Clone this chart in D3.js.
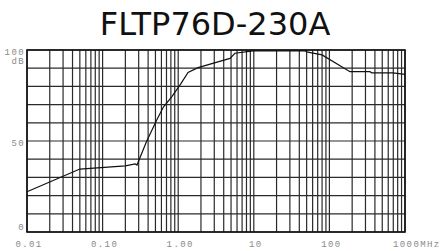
<!DOCTYPE html>
<html lang="en">
<head>
  <meta charset="UTF-8">
  <title>FLTP76D-230A</title>
  <style>
    body { margin: 0; background: #fff; }
    svg { display: block; }
    .lbl { font-family: "Liberation Mono", "DejaVu Sans Mono", monospace; font-size: 9px; fill: #8a8a8a; letter-spacing: 1.4px; }
  </style>
</head>
<body>
  <div id="chart"></div>
  <script src="https://d3js.org/d3.v7.min.js"></script>
  <script>
// frequency (MHz) and insertion loss (dB)
const freq = [0.01, 0.05, 0.2, 0.27, 0.285, 0.38, 0.52, 0.64, 0.82, 1.06, 1.35, 1.83, 4.84, 5.64, 9.75, 47.5, 52, 80, 187, 344, 364, 694, 1000]
const db   = [22.1, 34.6, 36.3, 37.4, 36.8, 49.6, 61.5, 68.8, 74.3, 80.8, 87.7, 90.3, 95.4, 98.2, 99.5, 99.5, 98.8, 97.3, 88.1, 88.1, 87.4, 87.4, 86.6]
const xTicks = [0.01, 0.1, 1, 10, 100, 1000]
const xTickLabels = ['0.01', '0.10', '1.00', '10', '100', '1000MHz']
const yTicks = [0, 50, 100]
const yTickLabels = ['0', '50', '100']

const width = 441, height = 251
const x = d3.scaleLog().domain([0.01, 1000]).range([27, 405])
const y = d3.scaleLinear().domain([0, 100]).range([232, 50])

const svg = d3.select('#chart').append('svg')
  .attr('width', width)
  .attr('height', height)

// title
svg.append('text')
  .attr('x', 215)
  .attr('y', 35)
  .attr('text-anchor', 'middle')
  .style('font-family', '"DejaVu Sans", Verdana, sans-serif')
  .style('font-size', '32px')
  .style('fill', '#111')
  .text('FLTP76D-230A')

// log grid: 1..9 in every decade
const vLines = []
for (let e = -2; e < 3; e++) {
  for (let m = 1; m < 10; m++) vLines.push(m * Math.pow(10, e))
}
vLines.push(1000)

const grid = svg.append('g').attr('stroke', '#2a2a2a').attr('stroke-width', 1.2)
grid.selectAll('line.v')
  .data(vLines)
  .enter()
  .append('line')
    .attr('class', 'v')
    .attr('x1', d => x(d)).attr('x2', d => x(d))
    .attr('y1', y(0)).attr('y2', y(100))

grid.selectAll('line.h')
  .data(d3.range(0, 101, 10))
  .enter()
  .append('line')
    .attr('class', 'h')
    .attr('x1', x(0.01)).attr('x2', x(1000))
    .attr('y1', d => y(d)).attr('y2', d => y(d))

// frame
svg.append('rect')
  .attr('x', x(0.01)).attr('y', y(100))
  .attr('width', x(1000) - x(0.01))
  .attr('height', y(0) - y(100))
  .attr('fill', 'none')
  .attr('stroke', '#111')
  .attr('stroke-width', 1.6)

// the response curve
const line = d3.line()
  .x((d, i) => x(freq[i]))
  .y(d => y(d))

svg.append('path')
  .datum(db)
  .attr('d', line)
  .attr('fill', 'none')
  .attr('stroke', '#111')
  .attr('stroke-width', 1.2)

// x labels
svg.selectAll('text.xl')
  .data(xTicks)
  .enter()
  .append('text')
    .attr('class', 'lbl xl')
    .attr('x', (d, i) => i === xTicks.length - 1 ? x(d) - 12 : x(d) + 2)
    .attr('y', 247)
    .attr('text-anchor', (d, i) => i === xTicks.length - 1 ? 'start' : 'middle')
    .text((d, i) => xTickLabels[i])

// y labels
svg.selectAll('text.yl')
  .data(yTicks)
  .enter()
  .append('text')
    .attr('class', 'lbl yl')
    .attr('x', 25)
    .attr('y', d => d === 0 ? y(d) - 2 : y(d) + 5)
    .attr('text-anchor', 'end')
    .text((d, i) => yTickLabels[i])

svg.append('text')
  .attr('class', 'lbl')
  .attr('x', 25)
  .attr('y', y(100) + 14)
  .attr('text-anchor', 'end')
  .text('dB')
  </script>
</body>
</html>
